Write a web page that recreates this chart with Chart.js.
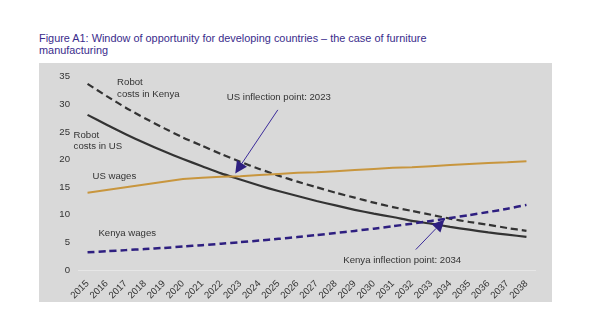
<!DOCTYPE html>
<html>
<head>
<meta charset="utf-8">
<script src="https://cdn.jsdelivr.net/npm/chart.js@4"></script>
<style>
  body { margin: 0; background: #fff; font-family: "Liberation Sans", Arial, sans-serif; }
  #titulo {
    position: absolute; left: 39px; top: 32px;
    font-size: 10.9px; line-height: 12px; color: #3a2c8c;
  }
  #panel {
    position: absolute; left: 39px; top: 63px; width: 513px; height: 239px;
    background: #d9d9d9;
  }
</style>
</head>
<body>
<div id="titulo">Figure A1: Window of opportunity for developing countries – the case of furniture<br>manufacturing</div>
<div id="panel"><canvas id="grafico" width="513" height="239"></canvas></div>
<script>
const anios = ['2015','2016','2017','2018','2019','2020','2021','2022','2023','2024','2025','2026',
               '2027','2028','2029','2030','2031','2032','2033','2034','2035','2036','2037','2038'];

const robotUS = [28.1, 26.3, 24.6, 23.0, 21.5, 20.1, 18.8, 17.5, 16.4, 15.3, 14.3, 13.4,
                 12.5, 11.7, 10.9, 10.2, 9.6, 8.9, 8.4, 7.8, 7.3, 6.8, 6.4, 6.0];
const robotKenya = [33.7, 31.5, 29.4, 27.5, 25.7, 24.0, 22.5, 21.0, 19.6, 18.3, 17.1, 16.0,
                    15.0, 14.0, 13.1, 12.2, 11.4, 10.7, 10.0, 9.3, 8.7, 8.2, 7.6, 7.1];
const salariosUS = [14.0, 14.5, 15.0, 15.5, 16.0, 16.5, 16.7, 16.9, 17.0, 17.2, 17.4, 17.6,
                    17.7, 17.9, 18.1, 18.3, 18.5, 18.6, 18.8, 19.0, 19.2, 19.4, 19.5, 19.7];
const salariosKenya = [3.2, 3.4, 3.6, 3.8, 4.0, 4.25, 4.5, 4.76, 5.04, 5.33, 5.64, 5.97,
                       6.32, 6.69, 7.08, 7.49, 7.93, 8.39, 8.88, 9.4, 9.95, 10.5, 11.1, 11.8];
const ticksY = [0, 5, 10, 15, 20, 25, 30, 35];

// etiquetas sobre el grafico: [texto, indice de anio, valor]
const notas = [
    ['Robot', 1.55, 33.9],
    ['costs in Kenya', 1.55, 31.9],
    ['Robot', -0.73, 24.4],
    ['costs in US', -0.73, 22.4],
    ['US wages', 0.26, 17.0],
    ['Kenya wages', 0.57, 6.6],
    ['US inflection point: 2023', 7.3, 31.2],
    ['Kenya inflection point: 2034', 13.4, 1.8]
];
// flechas: [desde indice, desde valor, hasta indice, hasta valor]
const flechas = [
    [9.97, 29.0, 7.74, 17.5],
    [17.2, 3.7, 18.7, 9.1]
];

const notasPlugin = {
    id: 'notas',
    afterDatasetsDraw(chart) {
        const ctx = chart.ctx;
        const sx = chart.scales.x, sy = chart.scales.y;
        ctx.save();
        ctx.font = '9.6px "Liberation Sans", Arial, sans-serif';
        ctx.fillStyle = '#333333';
        ctx.textAlign = 'left';
        ctx.textBaseline = 'middle';
        notas.forEach(n => {
            ctx.fillText(n[0], sx.getPixelForValue(n[1]), sy.getPixelForValue(n[2]));
        });
        ctx.strokeStyle = '#3b2b9a';
        ctx.fillStyle = '#2e1f80';
        ctx.lineWidth = 1;
        flechas.forEach(f => {
            const x0 = sx.getPixelForValue(f[0]), y0 = sy.getPixelForValue(f[1]);
            const x1 = sx.getPixelForValue(f[2]), y1 = sy.getPixelForValue(f[3]);
            const ang = Math.atan2(y1 - y0, x1 - x0);
            const largo = 12, ancho = 6;
            const bx = x1 - largo * Math.cos(ang), by = y1 - largo * Math.sin(ang);
            ctx.beginPath();
            ctx.moveTo(x0, y0);
            ctx.lineTo(bx, by);
            ctx.stroke();
            ctx.beginPath();
            ctx.moveTo(x1, y1);
            ctx.lineTo(bx + ancho * Math.sin(ang), by - ancho * Math.cos(ang));
            ctx.lineTo(bx - ancho * Math.sin(ang), by + ancho * Math.cos(ang));
            ctx.closePath();
            ctx.fill();
        });
        ctx.restore();
    }
};

function crearGrafico() {
    const fuente = { family: '"Liberation Sans", Arial, sans-serif', size: 9.6 };
    const config = {
        type: 'line',
        data: {
            labels: anios,
            datasets: [
                {
                    label: 'US wages',
                    data: salariosUS,
                    borderColor: '#c8963e',
                    borderWidth: 2,
                    pointRadius: 0,
                    tension: 0
                },
                {
                    label: 'Kenya wages',
                    data: salariosKenya,
                    borderColor: '#2e1f80',
                    borderWidth: 2.5,
                    borderDash: [7, 4],
                    pointRadius: 0,
                    tension: 0.2
                },
                {
                    label: 'Robot costs in US',
                    data: robotUS,
                    borderColor: '#333333',
                    borderWidth: 2.2,
                    pointRadius: 0,
                    tension: 0.2
                },
                {
                    label: 'Robot costs in Kenya',
                    data: robotKenya,
                    borderColor: '#333333',
                    borderWidth: 2.2,
                    borderDash: [7, 4],
                    pointRadius: 0,
                    tension: 0.2
                }
            ]
        },
        options: {
            responsive: false,
            animation: false,
            layout: { padding: { top: 6, right: 16, left: 0, bottom: 0 } },
            plugins: {
                legend: { display: false },
                tooltip: { enabled: false }
            },
            scales: {
                x: {
                    offset: true,
                    grid: { display: false },
                    border: { display: false },
                    ticks: {
                        color: '#333333',
                        font: fuente,
                        minRotation: 45,
                        maxRotation: 45,
                        padding: 0,
                        autoSkip: false
                    },
                    afterFit(scale) { scale.height = 32; }
                },
                y: {
                    min: 0,
                    max: 35,
                    border: { display: false },
                    grid: {
                        drawTicks: false,
                        lineWidth: 1,
                        color: c => c.tick && c.tick.value === 0 ? '#e6e6e6' : 'rgba(0,0,0,0)'
                    },
                    afterBuildTicks(scale) { scale.ticks = ticksY.map(v => ({ value: v })); },
                    ticks: {
                        color: '#333333',
                        font: fuente,
                        padding: 8
                    },
                    afterFit(scale) { scale.width = 39; }
                }
            }
        },
        plugins: [notasPlugin]
    };
    const ctx = document.getElementById('grafico').getContext('2d');
    new Chart(ctx, config);
}

document.addEventListener('DOMContentLoaded', crearGrafico);
</script>
</body>
</html>
